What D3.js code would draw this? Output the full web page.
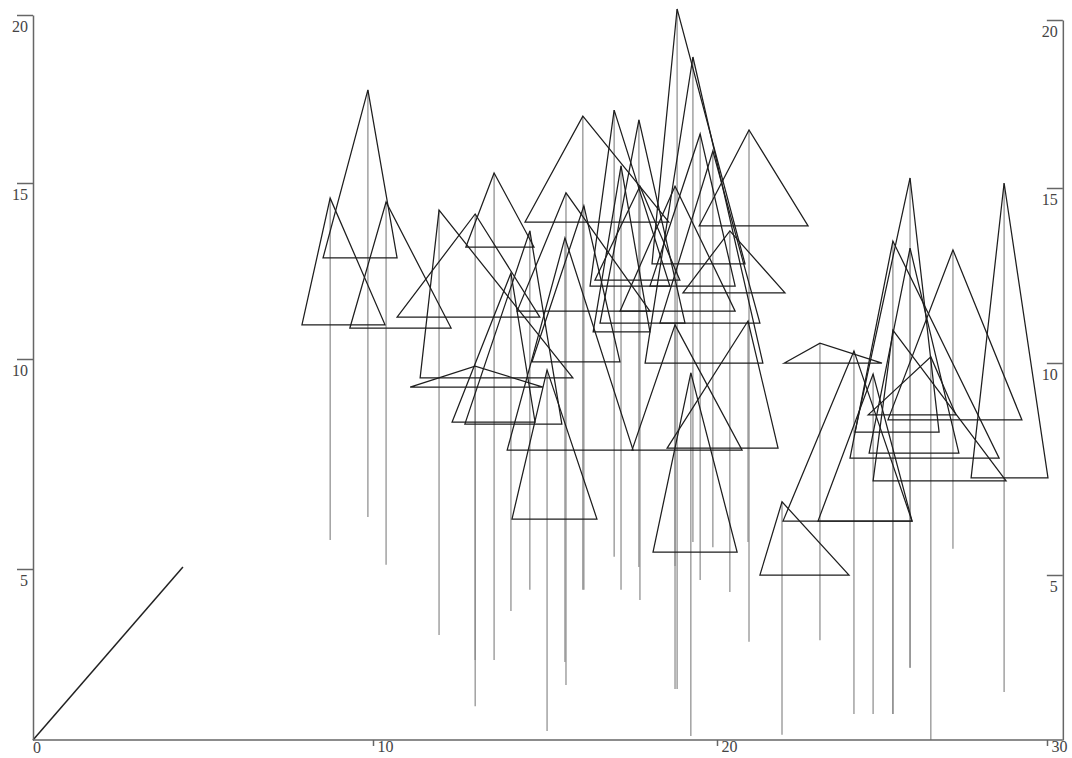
<!DOCTYPE html>
<meta charset="utf-8">
<style>
body { margin: 0; background: #fff; }
.axis text { font-family: "Liberation Serif", serif; font-size: 16px; fill: #444; }
.axis line, .axis path, .axis-line { stroke: #666; stroke-width: 1.5px; fill: none; }
.stem { stroke: #8a8a8a; stroke-width: 1.2px; }
.tri { fill: none; stroke: #1e1e1e; stroke-width: 1.25px; }
.diag { stroke: #222; stroke-width: 1.5px; }
</style>
<svg width="1072" height="758"></svg>
<script src="https://d3js.org/d3.v7.min.js"></script>
<script>

// apex position of each tree
var treeX   = [8.74, 9.85, 10.38, 11.92, 12.97, 13.52, 12.97, 14.01, 14.56, 15.61,
               15.58, 16.13, 16.10, 15.06, 17.01, 17.73, 17.21, 17.76, 18.78, 18.84,
               19.30, 19.51, 19.88, 20.97, 20.39, 20.94, 18.78, 19.24, 21.97, 23.12,
               24.15, 24.73, 25.33, 25.85, 25.85, 25.33, 26.48, 27.15, 28.70];
var treeTop = [14.57, 17.77, 14.46, 14.23, 14.12, 15.30, 9.83, 12.44, 13.64, 14.72,
               13.44, 14.35, 16.99, 9.74, 17.17, 16.88, 15.51, 14.91, 14.91, 20.18,
               18.75, 16.46, 15.95, 16.58, 13.64, 11.08, 10.97, 9.67, 6.60, 10.45,
               10.23, 9.64, 13.35, 15.15, 13.15, 10.82, 10.06, 13.10, 15.00];
// triangle base: height and left / right ends
var baseY   = [10.97, 12.87, 10.88, 9.55, 11.19, 13.18, 9.33, 8.50, 8.45, 11.36,
               7.83, 9.93, 13.89, 6.19, 12.07, 11.02, 10.77, 12.24, 11.36, 12.70,
               9.90, 12.07, 11.02, 13.78, 11.88, 7.88, 7.83, 5.40, 4.82, 9.90,
               6.14, 6.14, 7.64, 8.26, 7.76, 7.10, 8.67, 8.55, 7.17];
var baseL   = [7.91, 8.53, 9.32, 11.37, 10.70, 12.70, 11.08, 12.30, 12.67, 14.19,
               13.90, 14.62, 14.42, 14.04, 16.31, 16.60, 16.40, 16.45, 17.18, 18.11,
               17.91, 18.05, 18.34, 19.48, 19.01, 18.55, 17.53, 18.14, 21.30, 22.03,
               22.00, 23.06, 24.03, 24.18, 24.61, 24.73, 24.58, 25.18, 27.70];
var baseR   = [10.35, 10.70, 12.27, 15.81, 14.85, 14.68, 14.94, 14.71, 15.49, 18.05,
               17.56, 17.18, 18.60, 16.51, 18.63, 19.07, 18.05, 18.92, 20.55, 20.85,
               21.39, 20.55, 21.30, 22.76, 22.06, 21.85, 20.76, 20.61, 24.00, 25.00,
               25.91, 25.91, 28.55, 26.73, 27.33, 28.76, 27.24, 29.24, 30.03];
// lower end of each stem
var stemBot = [5.69, 6.24, 5.10, 3.07, 0.99, 2.34, 2.34, 3.77, 4.39, 1.61,
               2.28, 4.39, 4.39, 0.26, 5.29, 5.05, 4.39, 4.09, 5.07, 1.49,
               5.64, 4.68, 5.52, 2.87, 4.33, 5.64, 1.49, 0.12, 0.15, 2.92,
               0.76, 0.76, 0.76, 2.11, 2.11, 0.76, 0.00, 5.48, 1.40];

var diagLine = [[0, 0], [4.41, 5.05]];

var xTicks = [10, 20, 30],
    yTicks = [5, 10, 15, 20];

var svg = d3.select("svg");

// the printed axes are not evenly spaced, so the scales are piecewise
var x = d3.scaleLinear().domain([0, 10, 20, 30]).range([33, 373, 717, 1047]),
    y = d3.scaleLinear().domain([0, 5, 10, 15, 20]).range([740, 569, 359, 183, 15]),
    yR = d3.scaleLinear().domain([0, 5, 10, 15, 20]).range([740, 575, 363, 188, 20]);

var xEdge = 30.48; // right frame line

var trees = treeX.map(function(d, i) {
  return {x: d, top: treeTop[i], base: baseY[i], left: baseL[i], right: baseR[i], bot: stemBot[i]};
});

var g = svg.append("g");

g.selectAll(".stem")
  .data(trees)
  .enter().append("line")
    .attr("class", "stem")
    .attr("x1", function(d) { return x(d.x); })
    .attr("x2", function(d) { return x(d.x); })
    .attr("y1", function(d) { return y(d.top); })
    .attr("y2", function(d) { return y(d.bot); });

g.selectAll(".tri")
  .data(trees)
  .enter().append("path")
    .attr("class", "tri")
    .attr("d", function(d) {
      return "M" + x(d.left) + "," + y(d.base) +
             "L" + x(d.x) + "," + y(d.top) +
             "L" + x(d.right) + "," + y(d.base) + "Z";
    });

g.append("path")
    .datum(diagLine)
    .attr("class", "diag")
    .attr("d", d3.line().x(function(d) { return x(d[0]); }).y(function(d) { return y(d[1]); }));

// left axis, ticks outward with labels under them
var left = svg.append("g")
    .attr("class", "axis")
    .attr("transform", "translate(" + x(0) + ",0)")
    .call(d3.axisLeft(y).tickValues(yTicks).tickSize(16).tickSizeOuter(0));
left.selectAll("text").attr("x", -5).attr("dy", "1.05em");

// right axis, ticks pointing inward
var right = svg.append("g")
    .attr("class", "axis")
    .attr("transform", "translate(" + x(xEdge) + ",0)")
    .call(d3.axisLeft(yR).tickValues(yTicks).tickSize(16).tickSizeOuter(0));
right.selectAll("text").attr("x", -5).attr("dy", "1.05em");

// bottom axis
var bottom = svg.append("g")
    .attr("class", "axis")
    .attr("transform", "translate(0," + y(0) + ")")
    .call(d3.axisBottom(x).tickValues(xTicks).tickSize(6).tickSizeOuter(0));
bottom.select(".domain").remove();
bottom.selectAll("text").attr("x", 4).attr("y", 0).attr("dy", "0.78em").attr("text-anchor", "start");

svg.append("line")
    .attr("class", "axis-line")
    .attr("x1", x(0)).attr("x2", x(xEdge))
    .attr("y1", y(0)).attr("y2", y(0));

svg.append("text")
    .attr("x", x(0))
    .attr("y", y(0) + 13)
    .style("font-family", "Liberation Serif, serif")
    .style("font-size", "16px")
    .style("fill", "#444")
    .text("0");

</script>
